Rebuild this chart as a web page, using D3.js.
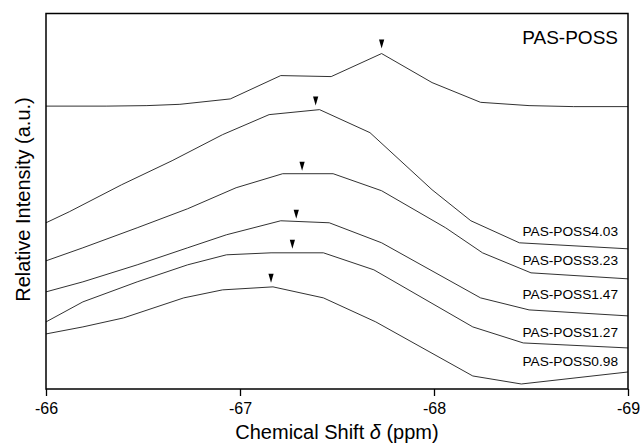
<!DOCTYPE html>
<html><head><meta charset="utf-8">
<script src="https://cdn.jsdelivr.net/npm/d3@7"></script>
<style>
body{margin:0;background:#fff;}
svg text{font-family:"Liberation Sans",Arial,sans-serif;fill:#000;}
</style></head>
<body><svg id="c" width="643" height="443"></svg>
<script>
// ---- data (ppm, relative intensity a.u.) ----
const seriesNames = ["PAS-POSS","PAS-POSS4.03","PAS-POSS3.23","PAS-POSS1.47","PAS-POSS1.27","PAS-POSS0.98"];
const ppmPOSS   = [-66.00,-66.31,-66.52,-66.69,-66.95,-67.21,-67.47,-67.73,-67.99,-68.24,-68.49,-68.72,-69.00];
const intPOSS   = [282.5,282.5,283,284.3,289.7,313,312,335,306,286.3,283,282,282];
const ppm403    = [-66.00,-66.12,-66.39,-66.65,-66.91,-67.15,-67.41,-67.67,-67.99,-68.19,-68.44,-69.00];
const int403    = [166,177,204,228,254,274,279,256,199,168,146,140];
const ppm323    = [-66.00,-66.19,-66.47,-66.73,-66.98,-67.22,-67.48,-67.73,-68.06,-68.25,-68.50,-69.00];
const int323    = [128,141,161,180,201,215,215,198,161,136,116,110];
const ppm147    = [-66.00,-66.19,-66.47,-66.73,-66.93,-67.21,-67.46,-67.73,-68.24,-68.49,-69.00];
const int147    = [97,107,124,141,154,168,166,146,91,79,73];
const ppm127    = [-66.00,-66.19,-66.47,-66.73,-66.93,-67.16,-67.43,-67.69,-68.20,-68.46,-69.00];
const int127    = [67,87,107,124,134,136,136,119,62,46,41];
const ppm098    = [-66.00,-66.19,-66.40,-66.71,-66.91,-67.17,-67.43,-67.70,-68.20,-68.45,-69.00];
const int098    = [55,62,71,91,99,102,91,67,13,5,17];
// peak markers (ppm, intensity at arrow tip)
const peakPpm   = [-67.73,-67.39,-67.32,-67.29,-67.27,-67.16];
const peakInt   = [340,283,218,170,140,106];
const xTicks    = [-66,-67,-68,-69];
const xTickLabels = ["-66","-67","-68","-69"];

const ppms = [ppmPOSS,ppm403,ppm323,ppm147,ppm127,ppm098];
const ints = [intPOSS,int403,int323,int147,int127,int098];

// ---- layout ----
const L=46, R=628, T=13.5, B=389;
const svg=d3.select("#c");
const x=d3.scaleLinear().domain([-66,-69]).range([L,R]);
const y=d3.scaleLinear().domain([0,375]).range([B,T]);

const line=d3.line().x(d=>x(d[0])).y(d=>y(d[1]));
ppms.forEach((p,i)=>{
  const pts=p.map((v,j)=>[v,ints[i][j]]);
  svg.append("path").attr("d",line(pts)).attr("fill","none")
     .attr("stroke","#1a1a1a").attr("stroke-width",0.9);
});

// arrows
peakPpm.forEach((p,i)=>{
  const cx=x(p), ty=y(peakInt[i]);
  svg.append("path")
    .attr("d",`M${cx-2.6},${ty-9} L${cx+2.6},${ty-9} L${cx},${ty} Z`)
    .attr("fill","#000");
});

// frame
svg.append("rect").attr("x",L).attr("y",T).attr("width",R-L).attr("height",B-T)
  .attr("fill","none").attr("stroke","#000").attr("stroke-width",1.5);

// x axis
const ax=d3.axisBottom(x).tickValues(xTicks).tickFormat((d,i)=>xTickLabels[i]).tickSize(7).tickPadding(7);
const g=svg.append("g").attr("transform",`translate(0,${B})`).call(ax);
g.select(".domain").remove();
g.selectAll(".tick line").attr("stroke","#000").attr("stroke-width",1.3);
g.selectAll(".tick text").attr("font-size",16).attr("font-family","Liberation Sans, Arial, sans-serif").attr("fill","#000");

// series labels
const labelY=[44,236,265,299,337,366];
seriesNames.forEach((n,i)=>{
  svg.append("text").attr("x",618).attr("y",labelY[i]).attr("text-anchor","end")
    .attr("font-size", i===0?19:13.7).text(n);
});

// axis titles
const xt=svg.append("text").attr("x",337).attr("y",439).attr("text-anchor","middle").attr("font-size",20);
xt.append("tspan").text("Chemical Shift ");
xt.append("tspan").attr("font-style","italic").text("δ");
xt.append("tspan").text(" (ppm)");
svg.append("text").attr("transform","translate(29.5,199.5) rotate(-90)").attr("text-anchor","middle")
  .attr("font-size",20).text("Relative Intensity (a.u.)");
</script></body></html>
